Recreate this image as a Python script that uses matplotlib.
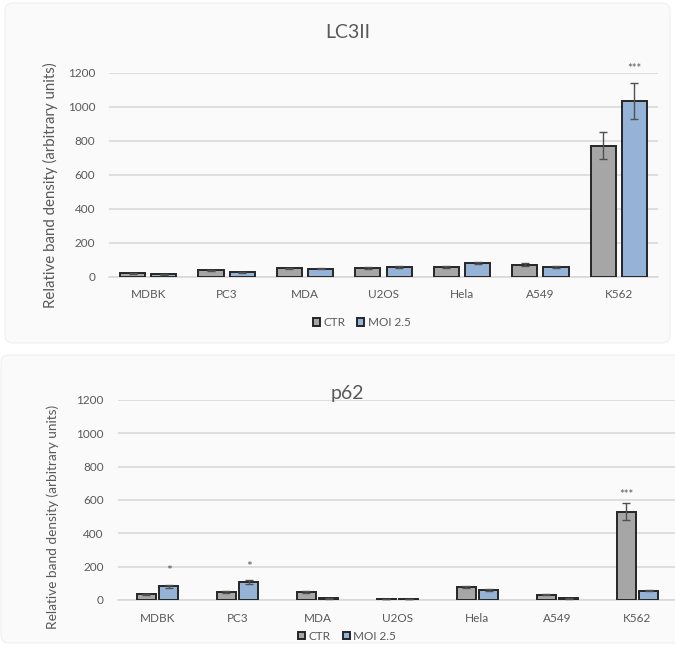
import matplotlib
matplotlib.use("Agg")
import matplotlib.pyplot as plt
import numpy as np
from matplotlib.patches import FancyBboxPatch

plt.rcParams["font.family"] = ["Lato", "DejaVu Sans"]

cells = ["MDBK", "PC3", "MDA", "U2OS", "Hela", "A549", "K562"]

lc3_ctr = [20, 37, 49, 49, 58, 70, 770]
lc3_ctr_err = [4, 5, 5, 6, 7, 8, 80]
lc3_moi = [15, 27, 48, 57, 78, 55, 1035]
lc3_moi_err = [3, 3, 5, 6, 6, 6, 105]
lc3_stars = ["", "", "", "", "", "", "***"]

p62_ctr = [35, 48, 50, 5, 78, 32, 530]
p62_ctr_err = [4, 5, 6, 1, 8, 4, 50]
p62_moi = [82, 106, 10, 8, 62, 10, 57]
p62_moi_err = [10, 12, 2, 1, 7, 2, 5]
p62_star_ctr = ["", "", "", "", "", "", "***"]
p62_star_moi = ["*", "*", "", "", "", "", ""]

yticks = [0, 200, 400, 600, 800, 1000, 1200]

CTR_COLOR = "#a6a6a6"
MOI_COLOR = "#95b3d7"
EDGE = "#262626"
GRID = "#d9d9d9"
TEXT = "#595959"

fig = plt.figure(figsize=(6.75, 6.54), dpi=100)

W, H = 675, 654


def panel(x0, y0, x1, y1):
    # pixel box (top-left origin) -> figure coords
    box = FancyBboxPatch(
        (x0 / W, 1 - y1 / H), (x1 - x0) / W, (y1 - y0) / H,
        boxstyle="round,pad=0,rounding_size=0.012",
        transform=fig.transFigure, facecolor="#fafafa",
        edgecolor="#efefef", linewidth=0.8, zorder=-10,
    )
    fig.patches.append(box)


panel(5, 3, 670, 343)
panel(1, 355, 700, 643)


def draw(ax, ctr, ctr_err, moi, moi_err, width, offset, title, title_y,
         label_size):
    x = np.arange(len(cells))
    ax.set_facecolor("none")
    ax.bar(x - offset, ctr, width, color=CTR_COLOR, edgecolor=EDGE,
           linewidth=1.4, label="CTR", zorder=3)
    ax.bar(x + offset, moi, width, color=MOI_COLOR, edgecolor=EDGE,
           linewidth=1.4, label="MOI 2.5", zorder=3)
    ax.errorbar(x - offset, ctr, yerr=ctr_err, fmt="none", ecolor="#505050",
                elinewidth=1, capsize=3, capthick=1, zorder=4)
    ax.errorbar(x + offset, moi, yerr=moi_err, fmt="none", ecolor="#505050",
                elinewidth=1, capsize=3, capthick=1, zorder=4)
    ax.set_xlim(-0.5, len(cells) - 0.5)
    ax.set_ylim(0, 1200)
    ax.set_yticks(yticks)
    ax.set_xticks(x)
    ax.set_xticklabels(cells)
    ax.yaxis.grid(True, color=GRID, linewidth=1.2, zorder=0)
    ax.set_axisbelow(True)
    for s in ["top", "right", "left"]:
        ax.spines[s].set_visible(False)
    ax.spines["bottom"].set_color(GRID)
    ax.spines["bottom"].set_linewidth(1.2)
    ax.tick_params(length=0, labelsize=8.5, labelcolor=TEXT)
    ax.tick_params(axis="x", pad=9)
    ax.tick_params(axis="y", pad=10)
    ax.set_ylabel("Relative band density (arbitrary units)",
                  fontsize=label_size, color=TEXT)
    fig.text(0.515, title_y, title, ha="center", va="center", fontsize=14,
             color="#595959")
    return x


# LC3II panel
ax1 = fig.add_axes([109 / W, 1 - 276.7 / H, 549 / W, 204 / H])
x = draw(ax1, lc3_ctr, lc3_ctr_err, lc3_moi, lc3_moi_err, 0.32, 0.2,
         "LC3II", 1 - 33 / H, 10.8)
for xi, v, e, s in zip(x, lc3_moi, lc3_moi_err, lc3_stars):
    if s:
        ax1.text(xi + 0.2, 1195, s, ha="center", va="bottom", fontsize=8,
                 color=TEXT, clip_on=False)
ax1.yaxis.set_label_coords(-0.093, 0.45)
ax1.legend(loc="center", bbox_to_anchor=(0.46, -0.225), ncol=2,
           frameon=False, fontsize=8.5, handlelength=0.6, handleheight=0.6,
           handletextpad=0.3, columnspacing=1.0, labelcolor=TEXT)

# p62 panel
ax2 = fig.add_axes([117.5 / W, 1 - 600 / H, 560 / W, 200 / H])
x = draw(ax2, p62_ctr, p62_ctr_err, p62_moi, p62_moi_err, 0.24, 0.14,
         "p62", 1 - 394 / H, 9.8)
for xi, v, e, s in zip(x, p62_ctr, p62_ctr_err, p62_star_ctr):
    if s:
        ax2.text(xi - 0.14, v + e + 20, s, ha="center", va="bottom",
                 fontsize=8, color=TEXT)
for xi, v, e, s in zip(x, p62_moi, p62_moi_err, p62_star_moi):
    if s:
        ax2.text(xi + 0.14, v + e + 45, s, ha="center", va="bottom",
                 fontsize=10, color=TEXT)
ax2.yaxis.set_label_coords(-0.105, 0.415)
ax2.legend(loc="center", bbox_to_anchor=(0.41, -0.18), ncol=2,
           frameon=False, fontsize=8.5, handlelength=0.6, handleheight=0.6,
           handletextpad=0.3, columnspacing=1.0, labelcolor=TEXT)

fig.savefig("out.png", dpi=100)
